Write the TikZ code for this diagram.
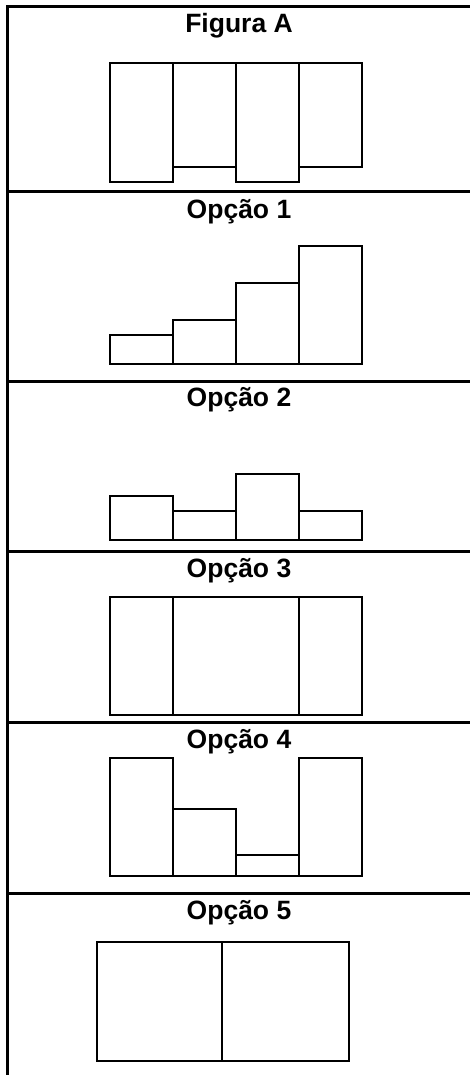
\documentclass[tikz,border=0pt]{standalone}
\usepackage{fontspec}
\setmainfont{Liberation Sans}
\begin{document}
\begin{tikzpicture}[x=1pt, y=-1pt,
    frame/.style={line width=3pt},
    bar/.style={draw, line width=2pt},
    title/.style={anchor=base, inner sep=0pt, font=\fontsize{26.5}{30}\selectfont\bfseries}]
    \useasboundingbox (0,0) rectangle (470,1075);

    % table lines
    \draw[frame] (7,1075) -- (7,7) -- (470,7);
    \draw[frame] (7,192) -- (470,192);
    \draw[frame] (7,381) -- (470,381);
    \draw[frame] (7,551) -- (470,551);
    \draw[frame] (7,722) -- (470,722);
    \draw[frame] (7,893) -- (470,893);

    % titles
    \node[title] (tA) at (239,33) {Figura A};
    \node[title] (t1) at (239,219) {Opção 1};
    \node[title] (t2) at (239,406) {Opção 2};
    \node[title] (t3) at (239,577) {Opção 3};
    \node[title] (t4) at (239,748) {Opção 4};
    \node[title] (t5) at (239,919) {Opção 5};

    % Figura A
    \draw[bar] (110,63) rectangle (173,182);
    \draw[bar] (173,63) rectangle (236,167);
    \draw[bar] (236,63) rectangle (299,182);
    \draw[bar] (299,63) rectangle (362,167);

    % Opcao 1
    \draw[bar] (110,335) rectangle (173,364);
    \draw[bar] (173,320) rectangle (236,364);
    \draw[bar] (236,283) rectangle (299,364);
    \draw[bar] (299,246) rectangle (362,364);

    % Opcao 2
    \draw[bar] (110,496) rectangle (173,540);
    \draw[bar] (173,511) rectangle (236,540);
    \draw[bar] (236,474) rectangle (299,540);
    \draw[bar] (299,511) rectangle (362,540);

    % Opcao 3
    \draw[bar] (110,597) rectangle (173,715);
    \draw[bar] (173,597) rectangle (299,715);
    \draw[bar] (299,597) rectangle (362,715);

    % Opcao 4
    \draw[bar] (110,758) rectangle (173,876);
    \draw[bar] (173,809) rectangle (236,876);
    \draw[bar] (236,855) rectangle (299,876);
    \draw[bar] (299,758) rectangle (362,876);

    % Opcao 5
    \draw[bar] (97,942) rectangle (222,1061);
    \draw[bar] (222,942) rectangle (349,1061);
\end{tikzpicture}
\end{document}
